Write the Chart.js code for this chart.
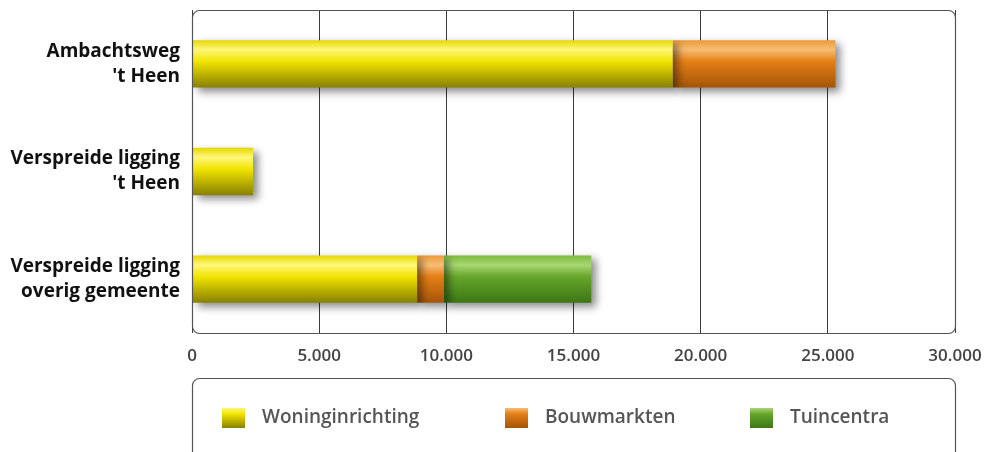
<!DOCTYPE html>
<html>
<head>
<meta charset="utf-8">
<script src="https://cdn.jsdelivr.net/npm/chart.js@4"></script>
<style>
  html, body { margin: 0; padding: 0; background: #fff; }
  #wrap { width: 987px; height: 452px; position: relative; }
</style>
</head>
<body>
<div id="wrap"><canvas id="chart"></canvas></div>
<script>
// categories (multi-line labels) and series values
const locations = [
  ['Ambachtsweg', "'t Heen"],
  ['Verspreide ligging', "'t Heen"],
  ['Verspreide ligging', 'overig gemeente']
];
const woninginrichting = [18900, 2400, 8850];
const bouwmarkten = [6400, 0, 1050];
const tuincentra = [0, 0, 5800];
const xTicks = [0, 5000, 10000, 15000, 20000, 25000, 30000];

// gradient stops per series: top, highlight, mid, bottom
const SHADES = {
  Woninginrichting: ['#e6d800', '#fff77a', '#f1e400', '#878000'],
  Bouwmarkten: ['#ec9a3a', '#f7bd74', '#e57f16', '#a45508'],
  Tuincentra: ['#7dbb3c', '#a9d774', '#66a62a', '#3b7616']
};

function barGradient(context) {
  const chart = context.chart;
  const shades = SHADES[context.dataset.label];
  const yScale = chart.scales.y;
  if (!chart.chartArea || !yScale || context.dataIndex === undefined) return shades[2];
  const cy = yScale.getPixelForValue(context.dataIndex);
  const half = yScale.height / locations.length * 0.44 / 2;
  if (!isFinite(cy) || !isFinite(half) || half <= 0) return shades[2];
  const g = chart.ctx.createLinearGradient(0, cy - half, 0, cy + half);
  g.addColorStop(0, shades[0]);
  g.addColorStop(0.2, shades[1]);
  g.addColorStop(0.45, shades[2]);
  g.addColorStop(1, shades[3]);
  return g;
}

function roundRect(ctx, x, y, w, h, r) {
  ctx.beginPath();
  ctx.moveTo(x + r, y);
  ctx.arcTo(x + w, y, x + w, y + h, r);
  ctx.arcTo(x + w, y + h, x, y + h, r);
  ctx.arcTo(x, y + h, x, y, r);
  ctx.arcTo(x, y, x + w, y, r);
  ctx.closePath();
}

const framePlugin = {
  id: 'frame',
  beforeDatasetDraw(chart) {
    const ctx = chart.ctx;
    ctx.save();
    ctx.shadowColor = 'rgba(0,0,0,0.45)';
    ctx.shadowBlur = 8;
    ctx.shadowOffsetX = 5;
    ctx.shadowOffsetY = 4;
  },
  afterDatasetDraw(chart) {
    chart.ctx.restore();
  },
  afterDraw(chart) {
    const ctx = chart.ctx;
    const a = chart.chartArea;
    ctx.save();
    ctx.strokeStyle = '#555';
    ctx.lineWidth = 1.2;
    roundRect(ctx, a.left + 0.5, a.top + 0.5, a.right - a.left, a.bottom - a.top, 7);
    ctx.stroke();

    // legend box
    const top = 378;
    roundRect(ctx, a.left + 0.5, top + 0.5, a.right - a.left, 100, 7);
    ctx.stroke();

    const itemX = [222, 505, 750];
    const cy = 418;
    ctx.font = '600 19px "Open Sans"';
    ctx.textBaseline = 'middle';
    chart.data.datasets.forEach((ds, i) => {
      const shades = SHADES[ds.label];
      const x = itemX[i];
      const g = ctx.createLinearGradient(0, cy - 10, 0, cy + 10);
      g.addColorStop(0, shades[1]);
      g.addColorStop(0.3, shades[2]);
      g.addColorStop(1, shades[3]);
      ctx.fillStyle = g;
      ctx.fillRect(x, cy - 10, 23, 20);
      ctx.fillStyle = '#555';
      ctx.fillText(ds.label, x + 40, cy);
    });
    ctx.restore();
  }
};

new Chart(document.getElementById('chart'), {
  type: 'bar',
  data: {
    labels: locations,
    datasets: [
      { label: 'Woninginrichting', data: woninginrichting, backgroundColor: barGradient },
      { label: 'Bouwmarkten', data: bouwmarkten, backgroundColor: barGradient },
      { label: 'Tuincentra', data: tuincentra, backgroundColor: barGradient }
    ]
  },
  options: {
    indexAxis: 'y',
    responsive: true,
    maintainAspectRatio: false,
    animation: false,
    categoryPercentage: 1,
    barPercentage: 0.44,
    layout: { padding: { top: 10, right: 32, left: 0, bottom: 0 } },
    plugins: { legend: { display: false }, tooltip: { enabled: false } },
    scales: {
      x: {
        stacked: true,
        min: 0,
        max: 30000,
        afterBuildTicks(scale) { scale.ticks = xTicks.map(v => ({ value: v })); },
        afterFit(scale) {
          scale.height = 119;
          scale.paddingLeft = 0;
          scale.paddingRight = 0;
        },
        grid: { color: '#3a3a3a', lineWidth: 1, drawTicks: false },
        border: { display: false },
        ticks: {
          padding: 13,
          color: '#444',
          font: { family: 'Open Sans', size: 17, weight: '600' },
          callback: v => v.toLocaleString('nl-NL')
        }
      },
      y: {
        stacked: true,
        afterFit(scale) {
          scale.width = 192;
          scale.paddingTop = 0;
          scale.paddingBottom = 0;
        },
        grid: { display: false, drawTicks: false },
        border: { display: false },
        ticks: {
          padding: 12,
          color: '#111',
          font: { family: 'Open Sans', size: 19, weight: 'bold', lineHeight: '25px' }
        }
      }
    }
  },
  plugins: [framePlugin]
});
</script>
</body>
</html>
